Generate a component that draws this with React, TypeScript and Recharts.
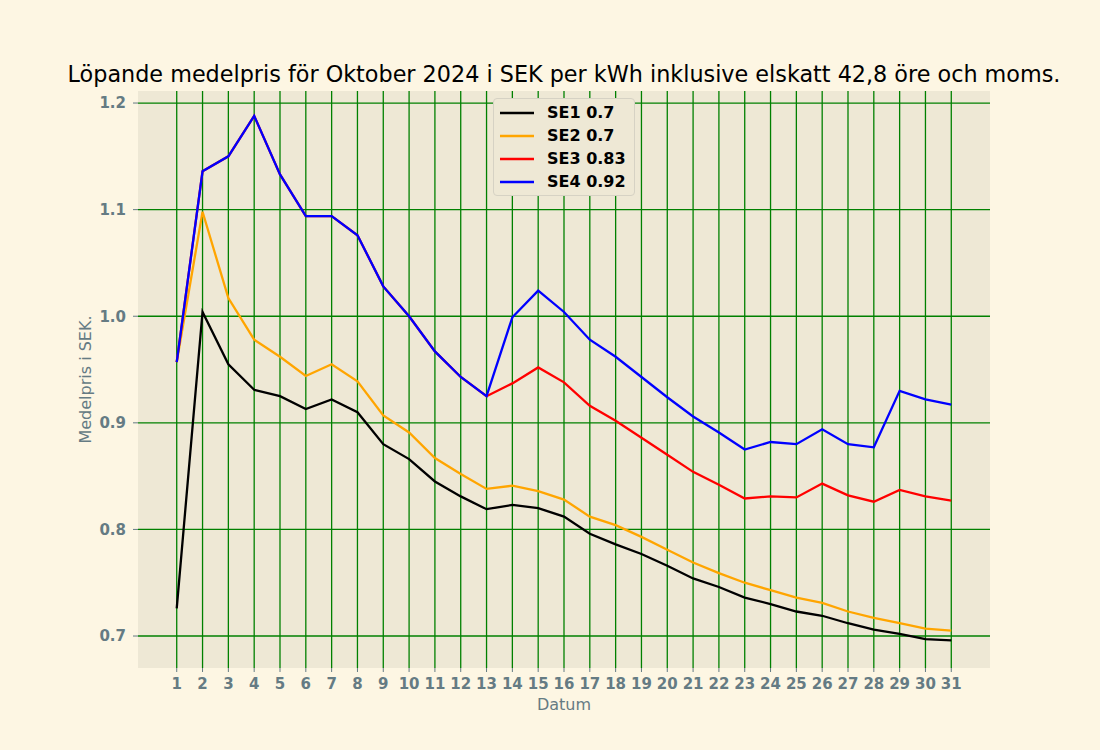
import React from "react";
import { LineChart, Line, XAxis, YAxis, CartesianGrid, Label, ReferenceLine } from "recharts";

const days = [1,2,3,4,5,6,7,8,9,10,11,12,13,14,15,16,17,18,19,20,21,22,23,24,25,26,27,28,29,30,31];
const se1 = [0.726,1.004,0.955,0.931,0.925,0.913,0.922,0.910,0.880,0.866,0.845,0.831,0.819,0.823,0.820,0.812,0.796,0.786,0.777,0.766,0.754,0.746,0.736,0.730,0.723,0.719,0.712,0.706,0.702,0.697,0.696];
const se2 = [0.957,1.098,1.017,0.978,0.962,0.944,0.955,0.939,0.907,0.891,0.867,0.852,0.838,0.841,0.836,0.828,0.812,0.804,0.793,0.781,0.769,0.759,0.750,0.743,0.736,0.731,0.723,0.717,0.712,0.707,0.705];
const se3 = [0.957,1.136,1.150,1.188,1.133,1.094,1.094,1.076,1.028,1.000,0.967,0.943,0.925,0.937,0.952,0.938,0.916,0.902,0.886,0.870,0.854,0.842,0.829,0.831,0.830,0.843,0.832,0.826,0.837,0.831,0.827];
const se4 = [0.957,1.136,1.150,1.188,1.133,1.094,1.094,1.076,1.028,1.000,0.967,0.943,0.925,0.999,1.024,1.004,0.978,0.962,0.943,0.924,0.906,0.891,0.875,0.882,0.880,0.894,0.880,0.877,0.930,0.922,0.917];
const seriesKeys = ["SE1", "SE2", "SE3", "SE4"];
const seriesNames = ["SE1 0.7", "SE2 0.7", "SE3 0.83", "SE4 0.92"];
const seriesColors = ["#000000", "#ffa500", "#ff0000", "#0000ff"];
const yTicks = [0.7, 0.8, 0.9, 1.0, 1.1, 1.2];
const title = "Löpande medelpris för Oktober 2024 i SEK per kWh inklusive elskatt 42,8 öre och moms.";
const xLabel = "Datum";
const yLabel = "Medelpris i SEK.";

const data = days.map((d, i) => ({ day: d, SE1: se1[i], SE2: se2[i], SE3: se3[i], SE4: se4[i] }));

const FONT = "'DejaVu Sans', sans-serif";
const GRAY = "#657b83";
const GRID = "#008000";

const LegendBox = () => (
  <div
    style={{
      position: "absolute",
      left: 493,
      top: 98,
      background: "#eee8d5",
      border: "1px solid #d6d2c4",
      borderRadius: 4,
      padding: "2px 8px 2px 6px",
      fontFamily: FONT,
      fontWeight: "bold",
      fontSize: 16,
      color: "#000",
    }}
  >
    {seriesKeys.map((k, i) => (
      <div key={k} style={{ display: "flex", alignItems: "center", height: 23 }}>
        <svg width={34} height={4} style={{ marginRight: 13 }}>
          <line x1={0} y1={2} x2={34} y2={2} stroke={seriesColors[i]} strokeWidth={2.5} />
        </svg>
        <span>{seriesNames[i]}</span>
      </div>
    ))}
  </div>
);

export default function App() {
  return (
    <div style={{ position: "absolute", left: 0, top: 0, width: 1100, height: 750, background: "#fdf6e3" }}>
      <div
        style={{
          position: "absolute",
          left: 0,
          top: 61,
          width: 1128,
          textAlign: "center",
          fontFamily: FONT,
          fontSize: 22.3,
          color: "#000",
          whiteSpace: "nowrap",
        }}
      >
        {title}
      </div>
      <LineChart width={1100} height={750} data={data} margin={{ top: 91, right: 110, bottom: 0, left: 0 }}>
        <CartesianGrid fill="#eee8d5" stroke="none" horizontal={false} vertical={false} />
        <XAxis
          dataKey="day"
          type="number"
          domain={[-0.5, 32.5]}
          ticks={days}
          interval={0}
          allowDataOverflow
          axisLine={false}
          tickLine={{ stroke: GRAY }}
          tickSize={4}
          tickMargin={6}
          height={82}
          tick={{ fill: GRAY, fontFamily: FONT, fontWeight: "bold", fontSize: 15 }}
        >
          <Label
            content={(props: any) => {
              const vb = props.viewBox || {};
              return (
                <text x={vb.x + vb.width / 2} y={vb.y + 42} textAnchor="middle" fill={GRAY} fontFamily={FONT} fontSize={16}>
                  {xLabel}
                </text>
              );
            }}
          />
        </XAxis>
        <YAxis
          type="number"
          domain={[0.67, 1.2113]}
          ticks={yTicks}
          allowDataOverflow
          axisLine={false}
          tickLine={{ stroke: GRAY }}
          tickSize={5}
          tickMargin={7}
          width={138}
          tickFormatter={(v: number) => v.toFixed(1)}
          tick={{ fill: GRAY, fontFamily: FONT, fontWeight: "bold", fontSize: 15 }}
        >
          <Label
            content={(props: any) => {
              const vb = props.viewBox || {};
              const cx = 91;
              const cy = vb.y + vb.height / 2;
              return (
                <text x={cx} y={cy} textAnchor="middle" fill={GRAY} fontFamily={FONT} fontSize={16} transform={`rotate(-90, ${cx}, ${cy})`}>
                  {yLabel}
                </text>
              );
            }}
          />
        </YAxis>
        {days.map((d) => (
          <ReferenceLine key={"vx" + d} x={d} stroke={GRID} strokeWidth={1.3} ifOverflow="hidden" />
        ))}
        {yTicks.map((v) => (
          <ReferenceLine key={"hy" + v} y={v} stroke={GRID} strokeWidth={1.3} ifOverflow="hidden" />
        ))}
        {seriesKeys.map((k, i) => (
          <Line
            key={k}
            type="linear"
            dataKey={k}
            name={seriesNames[i]}
            stroke={seriesColors[i]}
            strokeWidth={2.3}
            dot={false}
            isAnimationActive={false}
          />
        ))}
      </LineChart>
      <LegendBox />
    </div>
  );
}
